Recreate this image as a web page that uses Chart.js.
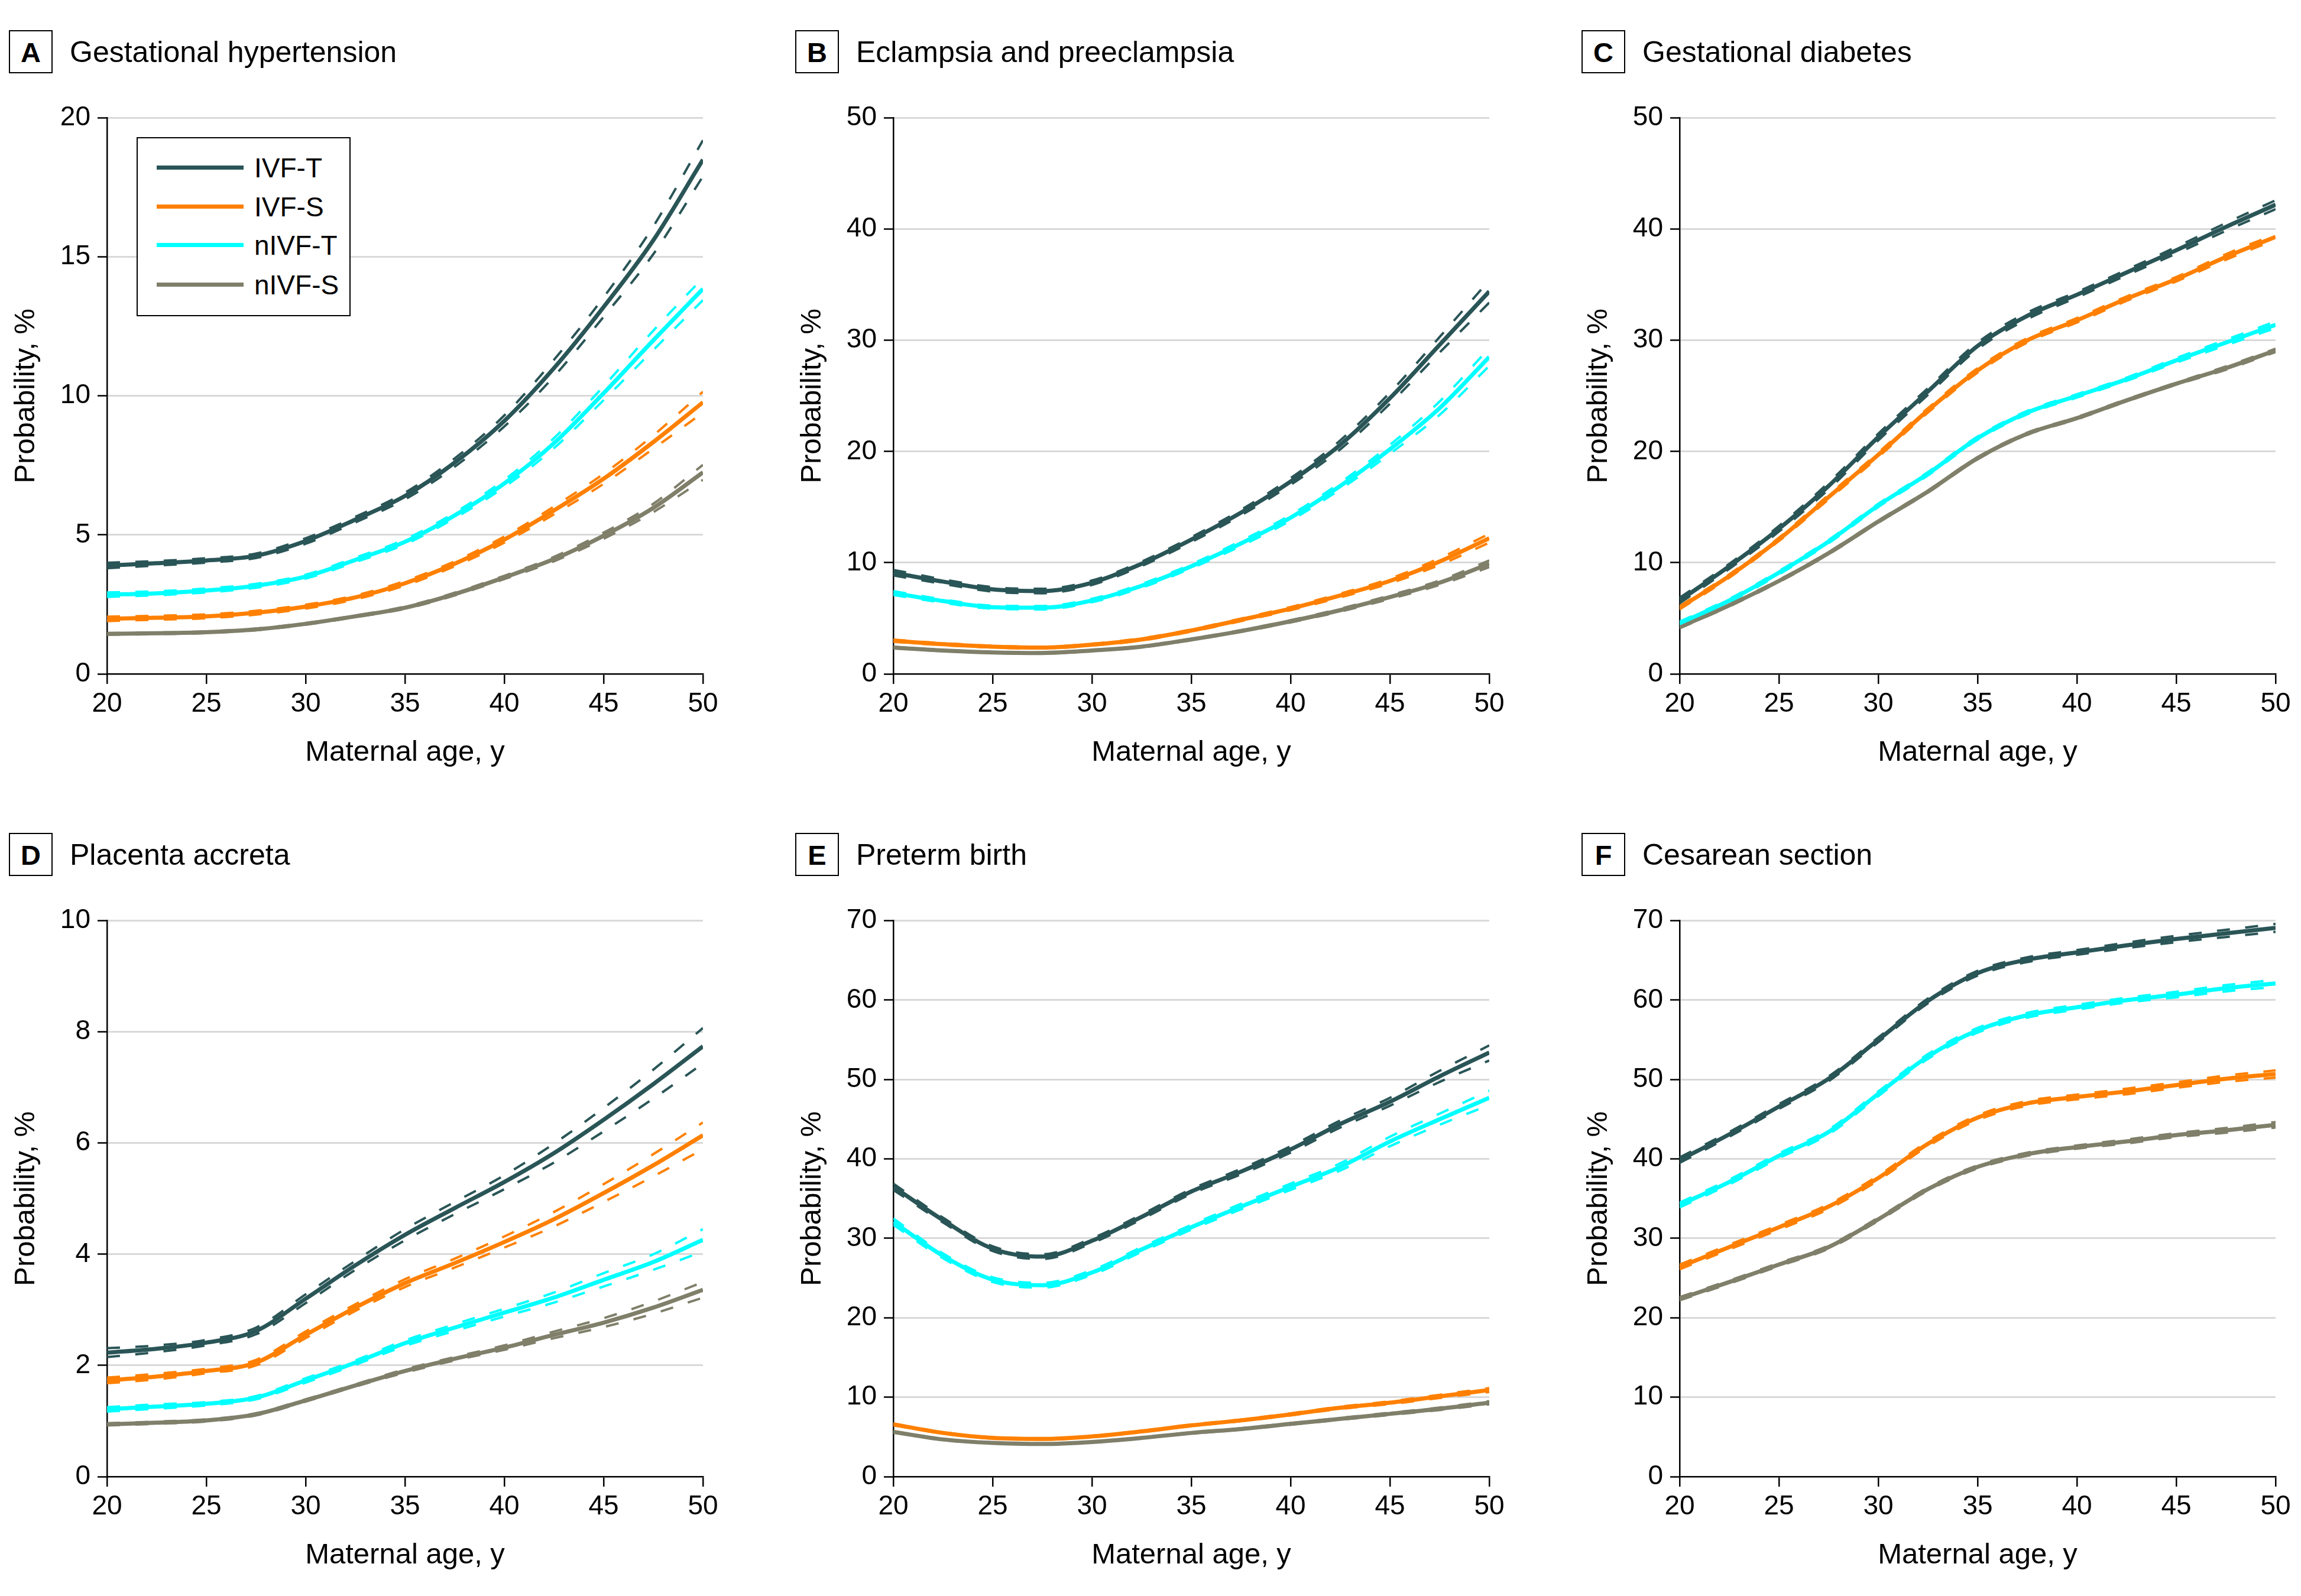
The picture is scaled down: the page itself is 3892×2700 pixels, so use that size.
<!DOCTYPE html>
<html><head><meta charset="utf-8">
<script src="https://cdn.jsdelivr.net/npm/chart.js@4.4.1/dist/chart.umd.min.js"></script>
<style>
html,body{margin:0;padding:0;background:#fff;overflow:hidden;width:3892px;height:2700px;}
body{position:relative;font-family:"Liberation Sans",Arial,sans-serif;color:#000;}
.cv{position:absolute;}
.lbl{position:absolute;width:70px;height:69px;border:2px solid #000;font-weight:bold;font-size:47px;line-height:71px;text-align:center;}
.ttl{position:absolute;font-size:50px;line-height:50px;white-space:nowrap;}
.legend{position:absolute;border:2px solid #000;background:#fff;width:358px;height:299px;}
.sw{position:absolute;left:32px;width:147px;height:7px;}
.lt{position:absolute;left:197px;font-size:46px;line-height:46px;white-space:nowrap;}
</style></head><body>
<script>
// ---------- data ----------
const ages = [20, 22.5, 25, 27.5, 30, 32.5, 35, 37.5, 40, 42.5, 45, 47.5, 50];
const seriesNames = ['IVF-T', 'IVF-S', 'nIVF-T', 'nIVF-S'];
const panelLetters = ['A', 'B', 'C', 'D', 'E', 'F'];
const panelTitles = ['Gestational hypertension', 'Eclampsia and preeclampsia', 'Gestational diabetes',
                     'Placenta accreta', 'Preterm birth', 'Cesarean section'];
const xTitle = 'Maternal age, y';
const yTitle = 'Probability, %';
const yMaxes = [20, 50, 50, 10, 70, 70];
const ySteps = [5, 10, 10, 2, 10, 10];
const xTickStep = 5;

// A Gestational hypertension
const gh_ivfT    = [3.9, 3.98, 4.08, 4.25, 4.78, 5.55, 6.4, 7.6, 9.1, 11.0, 13.2, 15.6, 18.5];
const gh_ivfT_lo = [3.8, 3.9, 4.0, 4.17, 4.68, 5.45, 6.28, 7.45, 8.9, 10.7, 12.85, 15.1, 17.9];
const gh_ivfT_hi = [4.0, 4.06, 4.16, 4.33, 4.88, 5.65, 6.52, 7.75, 9.3, 11.3, 13.55, 16.1, 19.2];
const gh_ivfS    = [1.98, 2.02, 2.07, 2.2, 2.42, 2.75, 3.26, 3.96, 4.83, 5.88, 7.02, 8.34, 9.77];
const gh_ivfS_lo = [1.9, 1.95, 2.0, 2.13, 2.35, 2.68, 3.18, 3.87, 4.72, 5.74, 6.84, 8.1, 9.4];
const gh_ivfS_hi = [2.06, 2.09, 2.14, 2.27, 2.49, 2.82, 3.34, 4.05, 4.94, 6.02, 7.2, 8.58, 10.15];
const gh_nivfT    = [2.85, 2.9, 3.0, 3.17, 3.5, 4.1, 4.75, 5.7, 6.85, 8.3, 10.1, 12.0, 13.85];
const gh_nivfT_lo = [2.77, 2.83, 2.93, 3.1, 3.43, 4.02, 4.66, 5.6, 6.72, 8.12, 9.85, 11.65, 13.45];
const gh_nivfT_hi = [2.93, 2.97, 3.07, 3.24, 3.57, 4.18, 4.84, 5.8, 6.98, 8.48, 10.35, 12.35, 14.25];
const gh_nivfS    = [1.44, 1.46, 1.5, 1.6, 1.8, 2.07, 2.38, 2.87, 3.47, 4.13, 4.97, 5.97, 7.25];
const gh_nivfS_lo = [1.41, 1.43, 1.47, 1.57, 1.77, 2.04, 2.34, 2.82, 3.41, 4.05, 4.86, 5.82, 6.98];
const gh_nivfS_hi = [1.47, 1.49, 1.53, 1.63, 1.83, 2.1, 2.42, 2.92, 3.53, 4.21, 5.08, 6.12, 7.52];

// B Eclampsia and preeclampsia
const ep_ivfT    = [9.1, 8.3, 7.6, 7.45, 8.2, 9.9, 12.08, 14.5, 17.3, 20.6, 24.8, 29.6, 34.4];
const ep_ivfT_lo = [8.85, 8.1, 7.4, 7.25, 8.0, 9.7, 11.85, 14.25, 17.0, 20.2, 24.3, 28.9, 33.4];
const ep_ivfT_hi = [9.35, 8.5, 7.8, 7.65, 8.4, 10.1, 12.3, 14.75, 17.6, 21.0, 25.3, 30.3, 35.4];
const ep_ivfS    = [2.98, 2.67, 2.45, 2.36, 2.63, 3.1, 3.9, 4.86, 5.87, 7.05, 8.36, 10.1, 12.2];
const ep_ivfS_lo = [2.88, 2.58, 2.37, 2.28, 2.55, 3.0, 3.8, 4.74, 5.73, 6.88, 8.15, 9.8, 11.8];
const ep_ivfS_hi = [3.08, 2.76, 2.53, 2.44, 2.71, 3.2, 4.0, 4.98, 6.01, 7.22, 8.57, 10.4, 12.6];
const ep_nivfT    = [7.27, 6.55, 6.0, 5.95, 6.6, 7.92, 9.68, 11.73, 14.05, 16.9, 20.2, 23.9, 28.5];
const ep_nivfT_lo = [7.1, 6.4, 5.86, 5.8, 6.45, 7.75, 9.5, 11.5, 13.8, 16.6, 19.8, 23.3, 27.7];
const ep_nivfT_hi = [7.44, 6.7, 6.14, 6.1, 6.75, 8.09, 9.86, 11.96, 14.3, 17.2, 20.6, 24.5, 29.3];
const ep_nivfS    = [2.36, 2.1, 1.93, 1.88, 2.1, 2.45, 3.1, 3.85, 4.73, 5.73, 6.9, 8.2, 9.9];
const ep_nivfS_lo = [2.3, 2.05, 1.88, 1.83, 2.05, 2.39, 3.03, 3.77, 4.63, 5.6, 6.74, 8.0, 9.6];
const ep_nivfS_hi = [2.42, 2.15, 1.98, 1.93, 2.15, 2.51, 3.17, 3.93, 4.83, 5.86, 7.06, 8.4, 10.2];

// C Gestational diabetes
const gd_ivfT    = [6.6, 9.68, 13.05, 16.9, 21.3, 25.4, 29.5, 32.2, 34.1, 36.1, 38.1, 40.2, 42.2];
const gd_ivfT_lo = [6.35, 9.45, 12.8, 16.6, 21.0, 25.1, 29.2, 31.9, 33.85, 35.85, 37.8, 39.85, 41.8];
const gd_ivfT_hi = [6.85, 9.9, 13.3, 17.2, 21.6, 25.7, 29.8, 32.5, 34.35, 36.35, 38.4, 40.55, 42.6];
const gd_ivfS    = [5.95, 8.8, 12.1, 15.9, 19.7, 23.7, 27.3, 30.0, 31.8, 33.75, 35.5, 37.5, 39.3];
const gd_ivfS_lo = [5.8, 8.65, 11.95, 15.7, 19.5, 23.5, 27.1, 29.8, 31.6, 33.55, 35.3, 37.25, 39.05];
const gd_ivfS_hi = [6.1, 8.95, 12.25, 16.1, 19.9, 23.9, 27.5, 30.2, 32.0, 33.95, 35.7, 37.75, 39.55];
const gd_nivfT    = [4.55, 6.6, 9.1, 11.9, 15.15, 18.0, 21.2, 23.5, 25.0, 26.5, 28.2, 29.8, 31.4];
const gd_nivfT_lo = [4.4, 6.45, 8.95, 11.75, 15.0, 17.85, 21.05, 23.35, 24.85, 26.35, 28.0, 29.55, 31.1];
const gd_nivfT_hi = [4.7, 6.75, 9.25, 12.05, 15.3, 18.15, 21.35, 23.65, 25.15, 26.65, 28.4, 30.05, 31.7];
const gd_nivfS    = [4.2, 6.17, 8.36, 10.86, 13.7, 16.4, 19.4, 21.6, 23.0, 24.6, 26.1, 27.5, 29.1];
const gd_nivfS_lo = [4.1, 6.07, 8.26, 10.76, 13.6, 16.3, 19.3, 21.5, 22.9, 24.5, 26.0, 27.35, 28.95];
const gd_nivfS_hi = [4.3, 6.27, 8.46, 10.96, 13.8, 16.5, 19.5, 21.7, 23.1, 24.7, 26.2, 27.65, 29.25];

// D Placenta accreta
const pa_ivfT    = [2.23, 2.3, 2.41, 2.62, 3.2, 3.8, 4.35, 4.83, 5.3, 5.82, 6.42, 7.06, 7.74];
const pa_ivfT_lo = [2.15, 2.24, 2.36, 2.56, 3.12, 3.72, 4.25, 4.72, 5.17, 5.65, 6.21, 6.8, 7.43];
const pa_ivfT_hi = [2.31, 2.36, 2.46, 2.68, 3.28, 3.88, 4.45, 4.94, 5.42, 5.99, 6.63, 7.32, 8.07];
const pa_ivfS    = [1.73, 1.8, 1.9, 2.05, 2.55, 3.04, 3.48, 3.84, 4.22, 4.63, 5.1, 5.6, 6.14];
const pa_ivfS_lo = [1.68, 1.75, 1.86, 2.0, 2.49, 2.98, 3.41, 3.76, 4.12, 4.5, 4.94, 5.4, 5.89];
const pa_ivfS_hi = [1.78, 1.85, 1.94, 2.1, 2.61, 3.1, 3.55, 3.92, 4.32, 4.76, 5.26, 5.8, 6.37];
const pa_nivfT    = [1.21, 1.26, 1.31, 1.42, 1.73, 2.05, 2.4, 2.68, 2.95, 3.22, 3.54, 3.86, 4.26];
const pa_nivfT_lo = [1.17, 1.22, 1.28, 1.39, 1.69, 2.01, 2.35, 2.62, 2.88, 3.13, 3.42, 3.72, 4.05];
const pa_nivfT_hi = [1.25, 1.3, 1.34, 1.45, 1.77, 2.09, 2.45, 2.74, 3.02, 3.31, 3.66, 4.0, 4.45];
const pa_nivfS    = [0.94, 0.97, 1.01, 1.12, 1.37, 1.64, 1.9, 2.12, 2.32, 2.55, 2.77, 3.04, 3.36];
const pa_nivfS_lo = [0.92, 0.95, 0.99, 1.1, 1.35, 1.62, 1.87, 2.09, 2.28, 2.49, 2.69, 2.93, 3.22];
const pa_nivfS_hi = [0.96, 0.99, 1.03, 1.14, 1.39, 1.66, 1.93, 2.15, 2.36, 2.61, 2.85, 3.15, 3.5];

// E Preterm birth
const pb_ivfT    = [36.5, 32.3, 28.7, 27.7, 29.7, 32.7, 35.9, 38.4, 41.2, 44.4, 47.2, 50.4, 53.4];
const pb_ivfT_lo = [36.1, 32.0, 28.4, 27.4, 29.4, 32.4, 35.6, 38.05, 40.8, 43.95, 46.7, 49.7, 52.4];
const pb_ivfT_hi = [36.9, 32.6, 29.0, 28.0, 30.0, 33.0, 36.2, 38.75, 41.6, 44.85, 47.7, 51.1, 54.3];
const pb_ivfS    = [6.58, 5.5, 4.87, 4.74, 5.06, 5.69, 6.45, 7.08, 7.84, 8.67, 9.3, 10.1, 10.9];
const pb_ivfS_lo = [6.48, 5.41, 4.79, 4.66, 4.98, 5.6, 6.35, 6.97, 7.71, 8.52, 9.13, 9.9, 10.65];
const pb_ivfS_hi = [6.68, 5.59, 4.95, 4.82, 5.14, 5.78, 6.55, 7.19, 7.97, 8.82, 9.47, 10.3, 11.15];
const pb_nivfT    = [32.1, 27.8, 24.8, 24.1, 25.7, 28.6, 31.4, 34.0, 36.5, 39.0, 42.2, 45.0, 47.7];
const pb_nivfT_lo = [31.7, 27.5, 24.5, 23.8, 25.4, 28.3, 31.1, 33.65, 36.1, 38.55, 41.6, 44.3, 46.8];
const pb_nivfT_hi = [32.5, 28.1, 25.1, 24.4, 26.0, 28.9, 31.7, 34.35, 36.9, 39.45, 42.8, 45.7, 48.6];
const pb_nivfS    = [5.63, 4.68, 4.24, 4.11, 4.36, 4.87, 5.5, 6.0, 6.64, 7.27, 7.9, 8.54, 9.3];
const pb_nivfS_lo = [5.55, 4.61, 4.18, 4.05, 4.3, 4.8, 5.42, 5.91, 6.54, 7.15, 7.76, 8.38, 9.1];
const pb_nivfS_hi = [5.71, 4.75, 4.3, 4.17, 4.42, 4.94, 5.58, 6.09, 6.74, 7.39, 8.04, 8.7, 9.5];

// F Cesarean section
const cs_ivfT    = [39.85, 43.1, 46.6, 50.1, 55.0, 59.9, 63.4, 65.1, 66.0, 66.9, 67.7, 68.4, 69.1];
const cs_ivfT_lo = [39.5, 42.8, 46.3, 49.8, 54.7, 59.6, 63.1, 64.8, 65.7, 66.55, 67.3, 67.95, 68.6];
const cs_ivfT_hi = [40.2, 43.4, 46.9, 50.4, 55.3, 60.2, 63.7, 65.4, 66.3, 67.25, 68.1, 68.85, 69.6];
const cs_ivfS    = [26.4, 28.9, 31.4, 34.0, 37.6, 41.9, 45.2, 47.0, 47.8, 48.5, 49.3, 50.1, 50.7];
const cs_ivfS_lo = [26.1, 28.6, 31.1, 33.7, 37.3, 41.6, 44.9, 46.7, 47.5, 48.15, 48.95, 49.7, 50.25];
const cs_ivfS_hi = [26.7, 29.2, 31.7, 34.3, 37.9, 42.2, 45.5, 47.3, 48.1, 48.85, 49.65, 50.5, 51.15];
const cs_nivfT    = [34.2, 37.1, 40.4, 43.4, 48.2, 52.9, 56.2, 58.1, 59.1, 60.0, 60.7, 61.5, 62.1];
const cs_nivfT_lo = [33.9, 36.8, 40.1, 43.1, 47.9, 52.6, 55.9, 57.8, 58.8, 59.7, 60.35, 61.1, 61.65];
const cs_nivfT_hi = [34.5, 37.4, 40.7, 43.7, 48.5, 53.2, 56.5, 58.4, 59.4, 60.3, 61.05, 61.9, 62.55];
const cs_nivfS    = [22.4, 24.5, 26.7, 28.9, 32.4, 36.2, 39.0, 40.6, 41.5, 42.2, 43.0, 43.6, 44.3];
const cs_nivfS_lo = [22.2, 24.3, 26.5, 28.7, 32.2, 36.0, 38.8, 40.4, 41.3, 41.95, 42.75, 43.3, 43.95];
const cs_nivfS_hi = [22.6, 24.7, 26.9, 29.1, 32.6, 36.4, 39.2, 40.8, 41.7, 42.45, 43.25, 43.9, 44.65];

// ---------- styling ----------
const seriesColors = ['#2a5557', '#ff8000', '#00ffff', '#7f7f6a'];
const FONT = '"Liberation Sans", Arial, sans-serif';
Chart.defaults.font.family = FONT;
Chart.defaults.color = '#000';

const panelSeries = [
  [[gh_ivfT, gh_ivfT_lo, gh_ivfT_hi], [gh_ivfS, gh_ivfS_lo, gh_ivfS_hi], [gh_nivfT, gh_nivfT_lo, gh_nivfT_hi], [gh_nivfS, gh_nivfS_lo, gh_nivfS_hi]],
  [[ep_ivfT, ep_ivfT_lo, ep_ivfT_hi], [ep_ivfS, ep_ivfS_lo, ep_ivfS_hi], [ep_nivfT, ep_nivfT_lo, ep_nivfT_hi], [ep_nivfS, ep_nivfS_lo, ep_nivfS_hi]],
  [[gd_ivfT, gd_ivfT_lo, gd_ivfT_hi], [gd_ivfS, gd_ivfS_lo, gd_ivfS_hi], [gd_nivfT, gd_nivfT_lo, gd_nivfT_hi], [gd_nivfS, gd_nivfS_lo, gd_nivfS_hi]],
  [[pa_ivfT, pa_ivfT_lo, pa_ivfT_hi], [pa_ivfS, pa_ivfS_lo, pa_ivfS_hi], [pa_nivfT, pa_nivfT_lo, pa_nivfT_hi], [pa_nivfS, pa_nivfS_lo, pa_nivfS_hi]],
  [[pb_ivfT, pb_ivfT_lo, pb_ivfT_hi], [pb_ivfS, pb_ivfS_lo, pb_ivfS_hi], [pb_nivfT, pb_nivfT_lo, pb_nivfT_hi], [pb_nivfS, pb_nivfS_lo, pb_nivfS_hi]],
  [[cs_ivfT, cs_ivfT_lo, cs_ivfT_hi], [cs_ivfS, cs_ivfS_lo, cs_ivfS_hi], [cs_nivfT, cs_nivfT_lo, cs_nivfT_hi], [cs_nivfS, cs_nivfS_lo, cs_nivfS_hi]]
];

const toXY = arr => ages.map((a, i) => ({x: a, y: arr[i]}));

function el(tag, cls, css, text) {
  const e = document.createElement(tag);
  if (cls) e.className = cls;
  Object.assign(e.style, css || {});
  if (text !== undefined) e.textContent = text;
  document.body.appendChild(e);
  return e;
}

const PLOT_W = 1008, PLOT_H = 946, Y_AXIS_W = 181, X_AXIS_H = 190, PAD_TOP = 34, PAD_RIGHT = 41;

for (let p = 0; p < 6; p++) {
  const col = p % 3, row = Math.floor(p / 3);
  const plotLeft = 181 + col * 1330;
  const plotTop = 194 + row * 1358;
  const cLeft = plotLeft - Y_AXIS_W, cTop = plotTop - PAD_TOP;
  const cW = Y_AXIS_W + PLOT_W + PAD_RIGHT, cH = PAD_TOP + PLOT_H + X_AXIS_H;

  // panel letter box + title
  const boxTop = 51 + row * 1358;
  el('div', 'lbl', {left: (15 + col * 1330) + 'px', top: boxTop + 'px'}, panelLetters[p]);
  el('div', 'ttl', {left: (118 + col * 1330) + 'px', top: (63 + row * 1358) + 'px'}, panelTitles[p]);

  const cv = document.createElement('canvas');
  cv.className = 'cv';
  cv.width = cW; cv.height = cH;
  cv.style.left = cLeft + 'px'; cv.style.top = cTop + 'px';
  cv.style.width = cW + 'px'; cv.style.height = cH + 'px';
  document.body.appendChild(cv);

  const datasets = [];
  panelSeries[p].forEach((trip, s) => {
    const c = seriesColors[s];
    datasets.push({label: seriesNames[s] + ' lower', data: toXY(trip[1]), borderColor: c, borderWidth: 4,
      borderDash: [22, 26], pointRadius: 0, fill: false, cubicInterpolationMode: 'monotone', order: 2});
    datasets.push({label: seriesNames[s] + ' upper', data: toXY(trip[2]), borderColor: c, borderWidth: 4,
      borderDash: [22, 26], pointRadius: 0, fill: false, cubicInterpolationMode: 'monotone', order: 2});
    datasets.push({label: seriesNames[s], data: toXY(trip[0]), borderColor: c, borderWidth: 7,
      pointRadius: 0, fill: false, cubicInterpolationMode: 'monotone', order: 1});
  });

  new Chart(cv, {
    type: 'line',
    data: {datasets},
    options: {
      responsive: false, animation: false, devicePixelRatio: 1,
      layout: {padding: {left: 0, top: PAD_TOP, right: PAD_RIGHT, bottom: 0}},
      plugins: {legend: {display: false}, tooltip: {enabled: false}, title: {display: false}},
      scales: {
        x: {
          type: 'linear', min: 20, max: 50,
          ticks: {stepSize: xTickStep, font: {size: 46}, color: '#000', padding: 7, maxRotation: 0},
          grid: {drawOnChartArea: false, drawTicks: true, tickLength: 17, tickColor: '#000', tickWidth: 2.5, lineWidth: 2.5},
          border: {color: '#000', width: 2.5},
          title: {display: true, text: xTitle, font: {size: 49}, color: '#000', padding: {top: 0, bottom: 27}},
          afterFit: s => { s.height = X_AXIS_H; }
        },
        y: {
          type: 'linear', min: 0, max: yMaxes[p],
          ticks: {stepSize: ySteps[p], font: {size: 46}, color: '#000', padding: 12},
          grid: {color: ctx => (ctx.tick && ctx.tick.value === 0) ? 'rgba(0,0,0,0)' : '#d9d9d9',
                 lineWidth: 3, drawTicks: true, tickLength: 16, tickColor: '#000', tickWidth: 2.5},
          border: {color: '#000', width: 2.5},
          title: {display: true, text: yTitle, font: {size: 49}, color: '#000', padding: {top: 15, bottom: 0}},
          afterFit: s => { s.width = Y_AXIS_W; }
        }
      }
    }
  });
}

// legend in panel A
const lg = el('div', 'legend', {left: '231px', top: '232px'});
const rowYs = [49, 115, 180, 247];
seriesNames.forEach((n, i) => {
  const sw = document.createElement('div');
  sw.className = 'sw';
  sw.style.top = (rowYs[i] - 3.5) + 'px';
  sw.style.background = seriesColors[i];
  lg.appendChild(sw);
  const t = document.createElement('div');
  t.className = 'lt';
  t.style.top = (rowYs[i] - 22) + 'px';
  t.textContent = n;
  lg.appendChild(t);
});
</script>
</body></html>
